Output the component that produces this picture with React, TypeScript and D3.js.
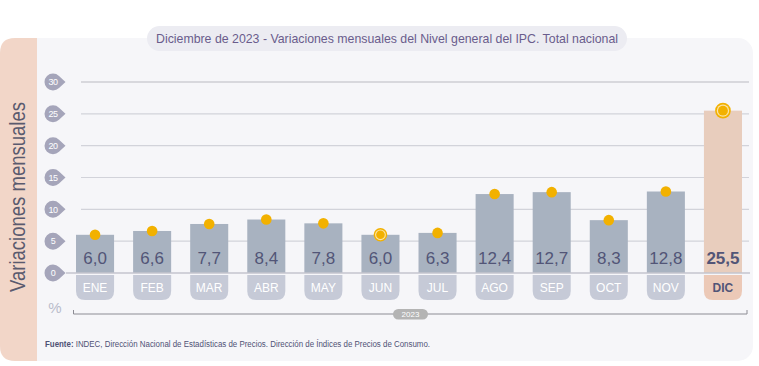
import React, { useRef, useEffect } from 'react';
import * as d3 from 'd3';

const months = ["ENE", "FEB", "MAR", "ABR", "MAY", "JUN", "JUL", "AGO", "SEP", "OCT", "NOV", "DIC"];
const values = [6.0, 6.6, 7.7, 8.4, 7.8, 6.0, 6.3, 12.4, 12.7, 8.3, 12.8, 25.5];
const yTicks = [0, 5, 10, 15, 20, 25, 30];
const ringMonths = ["JUN", "DIC"];
const highlightMonth = "DIC";
const yearLabel = "2023";
const title = "Diciembre de 2023 - Variaciones mensuales del Nivel general del IPC. Total nacional";
const yTitle = "Variaciones mensuales";

const FONT = "'Liberation Sans', Arial, sans-serif";

const App: React.FC = () => {
  const svgRef = useRef<SVGSVGElement | null>(null);

  useEffect(() => {
    const svg = d3.select(svgRef.current);
    svg.selectAll("*").remove();

    const width = 759;
    const height = 366;
    svg.attr("width", width).attr("height", height).style("font-family", FONT);

    // background panel + peach strip
    svg.append("rect")
      .attr("x", 0).attr("y", 38).attr("width", 753).attr("height", 323)
      .attr("rx", 15).attr("fill", "#f6f6f9");
    svg.append("path")
      .attr("d", "M37,38 L15,38 Q0,38 0,53 L0,346 Q0,361 15,361 L37,361 Z")
      .attr("fill", "#f2d6c8");

    // title pill
    svg.append("rect")
      .attr("x", 147).attr("y", 26).attr("width", 480).attr("height", 25)
      .attr("rx", 12.5).attr("fill", "#ececf2");
    svg.append("text")
      .attr("x", 387).attr("y", 43)
      .attr("text-anchor", "middle")
      .attr("font-size", 13)
      .attr("fill", "#6a5c8c")
      .attr("textLength", 462)
      .attr("lengthAdjust", "spacingAndGlyphs")
      .text(title);

    // y title
    svg.append("text")
      .attr("transform", "translate(25,197) rotate(-90)")
      .attr("text-anchor", "middle")
      .attr("font-size", 22)
      .attr("fill", "#5a5a6e")
      .attr("textLength", 190)
      .attr("lengthAdjust", "spacingAndGlyphs")
      .text(yTitle);

    const y = d3.scaleLinear().domain([0, 30]).range([273, 82]);
    const x = d3.scaleBand<string>()
      .domain(months)
      .range([66.5, 751.5])
      .paddingInner(1 / 3)
      .paddingOuter(1 / 6);
    const bw = x.bandwidth();

    // gridlines
    svg.append("g")
      .selectAll("line")
      .data(yTicks.filter(t => t > 0))
      .join("line")
      .attr("x1", 81).attr("x2", 749)
      .attr("y1", d => y(d)).attr("y2", d => y(d))
      .attr("stroke", d => (d === 30 ? "#b9b9c2" : "#d2d3da"))
      .attr("stroke-width", 1.2);

    // y tick badges
    const badge = svg.append("g");
    yTicks.forEach(t => {
      const cx = 53, cy = y(t), r = 8.5;
      const a = (45 * Math.PI) / 180;
      const p = d3.path();
      p.moveTo(cx + r * Math.cos(a), cy - r * Math.sin(a));
      p.arc(cx, cy, r, -a, a, true);
      p.lineTo(cx + r + 4, cy);
      p.closePath();
      badge.append("path").attr("d", p.toString()).attr("fill", "#a5a5ba");
      badge.append("text")
        .attr("x", cx).attr("y", cy + 3.2)
        .attr("text-anchor", "middle")
        .attr("font-size", 9)
        .attr("fill", "#ffffff")
        .attr("letter-spacing", -0.5)
        .text(String(t));
    });

    // bars
    svg.append("g")
      .selectAll("rect")
      .data(months)
      .join("rect")
      .attr("x", d => x(d)!)
      .attr("y", (d, i) => y(values[i]))
      .attr("width", bw)
      .attr("height", (d, i) => y(0) - y(values[i]))
      .attr("fill", d => (d === highlightMonth ? "#e8cdbd" : "#a8b2c0"));

    // baseline
    svg.append("line")
      .attr("x1", 66).attr("x2", 750)
      .attr("y1", y(0)).attr("y2", y(0))
      .attr("stroke", "#c4c5ce").attr("stroke-width", 1.5);

    // value labels
    svg.append("g")
      .selectAll("text")
      .data(months)
      .join("text")
      .attr("x", d => x(d)! + bw / 2)
      .attr("y", 264)
      .attr("text-anchor", "middle")
      .attr("font-size", 17)
      .attr("font-weight", d => (d === highlightMonth ? "bold" : "normal"))
      .attr("fill", "#525577")
      .text((d, i) => d3.format(".1f")(values[i]).replace(".", ","));

    // month tabs
    const tabTop = 275, tabBottom = 300, tr = 9;
    const tabs = svg.append("g");
    months.forEach(m => {
      const x0 = x(m)!, x1 = x0 + bw;
      tabs.append("path")
        .attr("d", `M${x0},${tabTop} L${x1},${tabTop} L${x1},${tabBottom - tr} Q${x1},${tabBottom} ${x1 - tr},${tabBottom} L${x0 + tr},${tabBottom} Q${x0},${tabBottom} ${x0},${tabBottom - tr} Z`)
        .attr("fill", m === highlightMonth ? "#ecc9b7" : "#c6cad7");
      tabs.append("text")
        .attr("x", x0 + bw / 2).attr("y", 292)
        .attr("text-anchor", "middle")
        .attr("font-size", 12)
        .attr("font-weight", m === highlightMonth ? "bold" : "normal")
        .attr("fill", m === highlightMonth ? "#525577" : "#ffffff")
        .text(m);
    });

    // dots
    const dots = svg.append("g");
    months.forEach((m, i) => {
      const cx = x(m)! + bw / 2, cy = y(values[i]);
      if (ringMonths.includes(m)) {
        const big = m === highlightMonth ? 1.15 : 1;
        dots.append("circle").attr("cx", cx).attr("cy", cy).attr("r", 6.8 * big).attr("fill", "#f2b100");
        dots.append("circle").attr("cx", cx).attr("cy", cy).attr("r", 5.4 * big).attr("fill", "#fbe3a6");
        dots.append("circle").attr("cx", cx).attr("cy", cy).attr("r", 4.3 * big).attr("fill", "#f2b100");
      } else {
        dots.append("circle").attr("cx", cx).attr("cy", cy).attr("r", 5.3).attr("fill", "#f2b100");
      }
    });

    // % label
    svg.append("text")
      .attr("x", 55).attr("y", 313)
      .attr("text-anchor", "middle")
      .attr("font-size", 15)
      .attr("fill", "#b9bccb")
      .text("%");

    // year bracket
    svg.append("path")
      .attr("d", "M73.5,310 L73.5,314 L747,314 L747,310")
      .attr("fill", "none")
      .attr("stroke", "#8c8c94")
      .attr("stroke-width", 1);
    svg.append("rect")
      .attr("x", 393).attr("y", 309).attr("width", 35).attr("height", 10.5)
      .attr("rx", 5.2).attr("fill", "#b4b4b4");
    svg.append("text")
      .attr("x", 410.5).attr("y", 317.3)
      .attr("text-anchor", "middle")
      .attr("font-size", 8)
      .attr("fill", "#ffffff")
      .text(yearLabel);

    // footer
    const foot = svg.append("text")
      .attr("x", 45).attr("y", 347)
      .attr("font-size", 8.5)
      .attr("fill", "#4f5275")
      .attr("textLength", 385)
      .attr("lengthAdjust", "spacingAndGlyphs");
    foot.append("tspan").attr("font-weight", "bold").text("Fuente: ");
    foot.append("tspan").text("INDEC, Dirección Nacional de Estadísticas de Precios. Dirección de Índices de Precios de Consumo.");
  }, []);

  return (
    <div style={{ position: 'fixed', left: 0, top: 0, background: '#ffffff' }}>
      <svg ref={svgRef} style={{ display: 'block' }}></svg>
    </div>
  );
};

export default App;
